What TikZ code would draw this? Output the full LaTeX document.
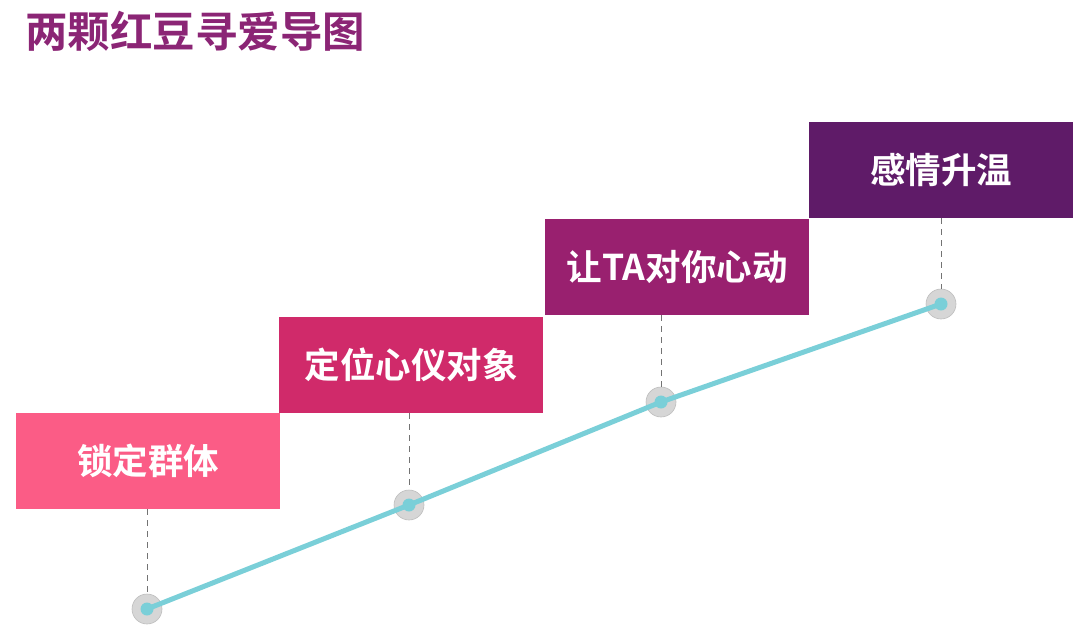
\documentclass[tikz,border=0pt]{standalone}
\usepackage{fontspec}
\newfontfamily\cjk{Noto Sans CJK SC}[BoldFont={* Bold}]
\definecolor{titlec}{HTML}{8B2575}
\definecolor{c1}{HTML}{FB5C86}
\definecolor{c2}{HTML}{D02A6A}
\definecolor{c3}{HTML}{99206F}
\definecolor{c4}{HTML}{5F1B68}
\definecolor{teal}{HTML}{7ACFD8}
\definecolor{dotfill}{HTML}{D6D6D6}
\definecolor{dotdraw}{HTML}{BDBDBD}
\tikzset{
  stepbox/.style={minimum width=264pt, minimum height=96pt, inner sep=0pt, text=white, font=\cjk\bfseries\fontsize{35.5}{38}\selectfont, anchor=north west},
  dot/.style={circle, minimum size=30pt, inner sep=0pt, fill=dotfill, draw=dotdraw, line width=0.6pt},
  drop/.style={draw=gray!90!black, dash pattern=on 6pt off 5pt, line width=1pt},
}
\begin{document}
\begin{tikzpicture}[x=1pt,y=-1pt]
\useasboundingbox (0,0) rectangle (1080,641);
\node[anchor=west, text=titlec, font=\cjk\bfseries\fontsize{42.5}{45}\selectfont, inner sep=0pt] (title) at (25,31) {两颗红豆寻爱导图};
\node[stepbox, fill=c1] (b1) at (16,413) {锁定群体};
\node[stepbox, fill=c2] (b2) at (279,317) {定位心仪对象};
\node[stepbox, fill=c3] (b3) at (545,219) {让TA对你心动};
\node[stepbox, fill=c4] (b4) at (809,122) {感情升温};
\node[dot] (d1) at (147,609) {};
\node[dot] (d2) at (409,505) {};
\node[dot] (d3) at (661,402) {};
\node[dot] (d4) at (941,304) {};
\draw[drop] (b1.south -| d1) -- (d1.north);
\draw[drop] (b2.south -| d2) -- (d2.north);
\draw[drop] (b3.south -| d3) -- (d3.north);
\draw[drop] (b4.south -| d4) -- (d4.north);
\draw[teal, line width=5pt, line cap=round] (d1.center) -- (d2.center) -- (d3.center) -- (d4.center);
\foreach \d in {d1,d2,d3,d4} \fill[teal] (\d.center) circle (6.5pt);
\end{tikzpicture}
\end{document}
